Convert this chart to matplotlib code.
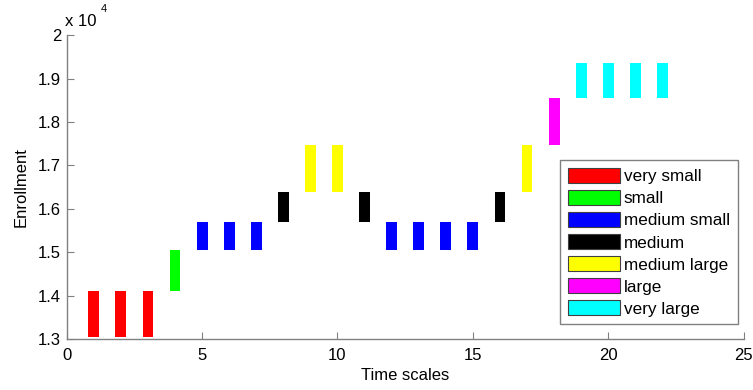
import matplotlib.pyplot as plt
import matplotlib.patches as mpatches
from matplotlib.ticker import FuncFormatter

# 区间（模糊集）及颜色
categories = ['very small', 'small', 'medium small', 'medium',
              'medium large', 'large', 'very large']
colors = ['#ff0000', '#00ff00', '#0000ff', '#000000',
          '#ffff00', '#ff00ff', '#00ffff']
lower = [13050, 14100, 15050, 15700, 16380, 17480, 18550]
upper = [14100, 15050, 15700, 16380, 17480, 18550, 19350]

# 每个时间点所属的区间
time_points = list(range(1, 23))
level = [0, 0, 0, 1, 2, 2, 2, 3, 4, 4, 3, 2, 2, 2, 2, 3, 4, 5, 6, 6, 6, 6]

plt.rcParams['font.family'] = ['Liberation Sans', 'DejaVu Sans']
fs = 12

fig = plt.figure(figsize=(7.53, 3.9), dpi=100)
ax = fig.add_axes([0.0886, 0.130, 0.8990, 0.780])

for t, k in zip(time_points, level):
    ax.bar(t, upper[k] - lower[k], bottom=lower[k], width=0.4,
           color=colors[k], edgecolor='none')

ax.set_xlim(0, 25)
ax.set_ylim(13000, 20000)
ax.set_xticks([0, 5, 10, 15, 20, 25])
ax.set_yticks([13000 + 1000 * i for i in range(8)])
ax.yaxis.set_major_formatter(FuncFormatter(lambda v, p: '%g' % (v / 1e4)))

# 仿 MATLAB 风格的坐标轴
for s in ['top', 'right']:
    ax.spines[s].set_visible(False)
for s in ['left', 'bottom']:
    ax.spines[s].set_color('#808080')
    ax.spines[s].set_linewidth(1.0)
ax.tick_params(direction='in', length=5, color='#808080', labelsize=fs)
ax.tick_params(axis='x', pad=6)
ax.tick_params(axis='y', pad=4)

ax.set_xlabel('Time scales', fontsize=fs, labelpad=4)
ax.set_ylabel('Enrollment', fontsize=fs, labelpad=7)
fig.text(0.086, 0.925, 'x 10', fontsize=fs, ha='left', va='bottom')
fig.text(0.134, 0.965, '4', fontsize=8, ha='left', va='bottom')

handles = [mpatches.Patch(facecolor=c, edgecolor='#404040', linewidth=0.8,
                          label=n) for c, n in zip(colors, categories)]
leg = fig.legend(handles=handles, loc='lower right',
                 bbox_to_anchor=(0.9797, 0.1685), fontsize=12.3,
                 handlelength=3.05, handleheight=0.98, handletextpad=0.25,
                 labelspacing=0.33, borderpad=0.45, borderaxespad=0,
                 fancybox=False, edgecolor='#808080', framealpha=1)
leg.get_frame().set_linewidth(1.0)

plt.savefig('out.png', dpi=100)
